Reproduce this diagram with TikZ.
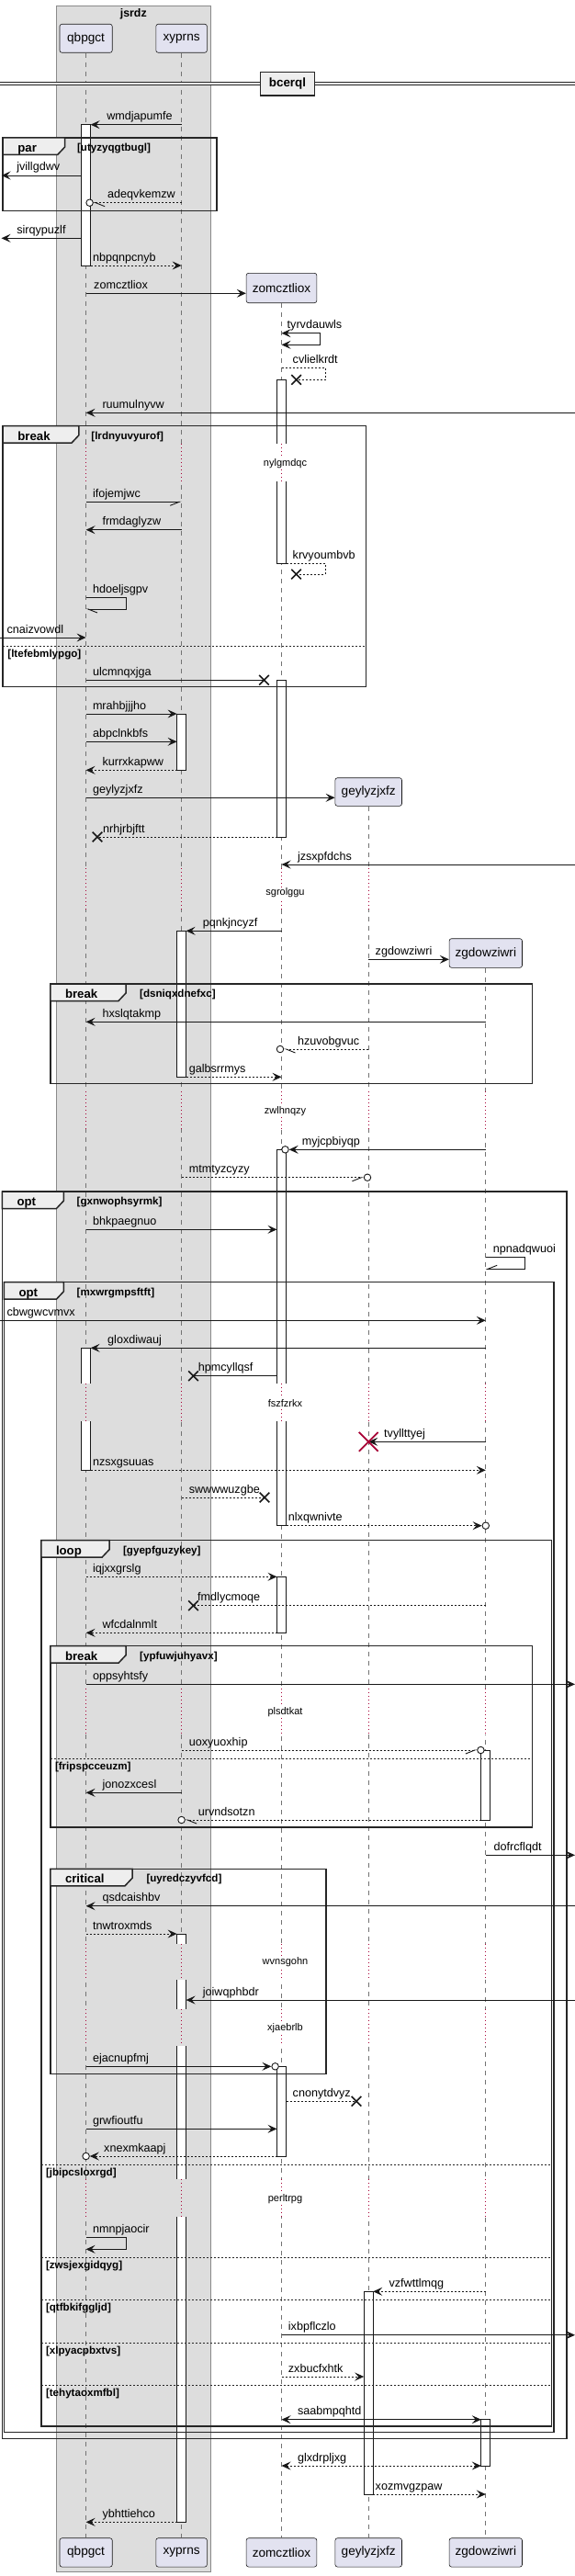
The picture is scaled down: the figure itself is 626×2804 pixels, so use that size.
\documentclass[tikz,border=0pt]{standalone}
\usepackage{fontspec}
\setmainfont{Liberation Sans}
\usepackage{tikz}
\usetikzlibrary{arrows.meta, calc, shapes.misc}

\definecolor{partfill}{HTML}{E2E2F0}
\definecolor{partline}{HTML}{181818}
\definecolor{boxfill}{HTML}{DDDDDD}
\definecolor{boxline}{HTML}{8A8A8A}
\definecolor{tabfill}{HTML}{EEEEEE}
\definecolor{delayred}{HTML}{A80036}

\tikzset{
  part/.style={draw=partline, fill=partfill, rounded corners=2.5pt, line width=0.6pt,
    inner sep=0pt, font=\fontsize{13.6}{16}\selectfont},
  life/.style={draw=black!55, line width=0.8pt, dash pattern=on 5pt off 5pt},
  dotlife/.style={draw=delayred, line width=0.9pt, dash pattern=on 1pt off 3pt},
  act/.style={draw=partline, fill=white, line width=0.9pt},
  msg/.style={draw=partline, line width=0.9pt, arrows={-Stealth[length=10pt,width=9pt,inset=4pt]}},
  ret/.style={dash pattern=on 2pt off 2pt},
  plain/.style={arrows={-}},
  two/.style={arrows={Stealth[length=10pt,width=9pt,inset=4pt]-Stealth[length=10pt,width=9pt,inset=4pt]}},
  hl/.style={arrows={-Straight Barb[harpoon,length=10pt,width=8pt]}},
  hr/.style={arrows={-Straight Barb[harpoon,swap,length=10pt,width=8pt]}},
  lbl/.style={anchor=base west, inner sep=0pt, font=\fontsize{12.6}{15}\selectfont},
  ring/.style={circle, draw=partline, fill=white, line width=0.9pt, minimum size=7.5pt, inner sep=0pt},
  xmark/.style={cross out, draw=partline, line width=1.6pt, minimum size=9pt, inner sep=0pt},
  xdead/.style={cross out, draw=delayred, line width=1.8pt, minimum size=19pt, inner sep=0pt},
  frameline/.style={draw=black!85, line width=1.5pt},
  elsel/.style={draw=black!85, line width=0.9pt, dash pattern=on 2pt off 2pt},
  kw/.style={anchor=base west, inner sep=0pt, font=\bfseries\fontsize{13.2}{15}\selectfont},
  cond/.style={anchor=base west, inner sep=0pt, font=\bfseries\fontsize{11.6}{14}\selectfont},
  delaytxt/.style={fill=white, inner sep=1pt, font=\fontsize{11}{13}\selectfont},
}

\newcounter{lblc}
\newcounter{grpc}
% message: [style]{from}{to}{y}{label}{label x}
\newcommand{\sendmsg}[6][]{%
  \stepcounter{lblc}%
  \draw[msg,#1] (#2 |- 0,#4) -- (#3 |- 0,#4);
  \node[lbl] (t\arabic{lblc}) at (#6,#4-5) {#5};}
\newcommand{\actbar}[3]{\draw[act] ($(#1)+(-5,#2)$) rectangle ($(#1)+(5,#3)$);}
% delay: {y1}{y2}{text y}{text}{lifeline/background}
\newcommand{\delaygap}[5]{%
  \foreach \p/\bg in {#5} {
    \fill[fill=\bg] ($(\p)+(-6,#1)$) rectangle ($(\p)+(6,#2)$);
    \draw[dotlife] ($(\p)+(0,#1)$) -- ($(\p)+(0,#2)$);
  }
  \node[delaytxt] (d#4) at (310.5,#3) {#4};}
% group frame: {x1}{y1}{x2}{y2}{tab right}{keyword}{condition}{condition x}
\newcommand{\grp}[8]{%
  \stepcounter{grpc}%
  \draw[frameline] (#1,#2) rectangle (#3,#4);
  \draw[frameline, fill=tabfill] (#1,#2) -- (#5,#2) -- (#5,#2+10) -- (#5-8,#2+18.5) -- (#1,#2+18.5) -- cycle;
  \node[kw] (g\arabic{grpc}) at (#1+16,#2+15.5) {#6};
  \node[cond] (gc\arabic{grpc}) at (#8,#2+14.5) {#7};}
\newcommand{\orelse}[4]{%
  \stepcounter{grpc}%
  \draw[elsel] (#1,#3) -- (#2,#3);
  \node[cond] (el\arabic{grpc}) at (#1+5,#3+12.5) {#4};}

\begin{document}
\begin{tikzpicture}[x=1pt, y=-1pt]
  \useasboundingbox (0,0) rectangle (626,2804);
  \fill[white] (0,0) rectangle (626,2804);

  % box jsrdz
  \draw[fill=boxfill, draw=boxline, line width=0.8pt] (60.9,6) rectangle (229.8,2799);
  \node[font=\bfseries\fontsize{12.4}{15}\selectfont] (jsrdz) at (145.3,15) {jsrdz};

  % lifelines
  \coordinate (qb) at (93.6,0);
  \coordinate (xy) at (197.6,0);
  \coordinate (zo) at (306.5,0);
  \coordinate (ge) at (401.2,0);
  \coordinate (zg) at (528.8,0);
  \foreach \p in {qb,xy,zo,ge,zg} {
    \coordinate (l\p) at ($(\p)+(-5,0)$);
    \coordinate (r\p) at ($(\p)+(5,0)$);
  }
  \coordinate (farL) at (0,0);
  \coordinate (tipL) at (1.5,0);
  \coordinate (farR) at (626,0);

  % participants
  \node[part, minimum width=57.3pt, minimum height=31pt] (qbpgct) at (qb |- 0,41.8) {qbpgct};
  \node[part, minimum width=55.6pt, minimum height=31pt] (xyprns) at (xy |- 0,41.8) {xyprns};
  \node[part, minimum width=76.7pt, minimum height=32.4pt] (zomcztliox) at (zo |- 0,313.5) {zomcztliox};
  \node[part, minimum width=72.6pt, minimum height=30.6pt] (geylyzjxfz) at (ge |- 0,862) {geylyzjxfz};
  \node[part, minimum width=79.4pt, minimum height=31.6pt] (zgdowziwri) at (zg |- 0,1037.5) {zgdowziwri};
  \node[part, minimum width=57.3pt, minimum height=31.3pt] (qbpgct2) at (qb |- 0,2778.4) {qbpgct};
  \node[part, minimum width=55.6pt, minimum height=31.3pt] (xyprns2) at (xy |- 0,2778.4) {xyprns};
  \node[part, minimum width=76.7pt, minimum height=31.3pt] (zomcztliox2) at (zo |- 0,2778.4) {zomcztliox};
  \node[part, minimum width=72.6pt, minimum height=31.3pt] (geylyzjxfz2) at (ge |- 0,2778.4) {geylyzjxfz};
  \node[part, minimum width=79.4pt, minimum height=31.3pt] (zgdowziwri2) at (zg |- 0,2778.4) {zgdowziwri};
  \draw[life] (qbpgct.south) -- (qbpgct2.north);
  \draw[life] (xyprns.south) -- (xyprns2.north);
  \draw[life] (zomcztliox.south) -- (zomcztliox2.north);
  \draw[life] (geylyzjxfz.south) -- (geylyzjxfz2.north);
  \draw[life] (zgdowziwri.south) -- (zgdowziwri2.north);

  % activations
  \actbar{qb}{135.7}{289}
  \actbar{zo}{413.3}{613.3}
  \actbar{zo}{740.3}{911}
  \actbar{xy}{777}{838.3}
  \actbar{xy}{1013.3}{1172.3}
  \actbar{zo}{1251.3}{1660.7}
  \actbar{qb}{1467.3}{1600.3}
  \actbar{zo}{1716.3}{1777.3}
  \actbar{zg}{1905}{1981}
  \actbar{xy}{2105}{2745.3}
  \actbar{zo}{2249.3}{2347}
  \actbar{ge}{2494.3}{2715}
  \actbar{zg}{2633.7}{2684}

  % delays
  \delaygap{483}{523.5}{504.3}{nylgmdqc}{qb/boxfill, xy/boxfill, zo/white}
  \delaygap{945}{990}{971.7}{sgrolggu}{qb/boxfill, xy/boxfill, zo/white, ge/white}
  \delaygap{1188}{1228.5}{1209.3}{zwlhnqzy}{qb/boxfill, xy/boxfill, zo/white, ge/white, zg/white}
  \delaygap{1505.7}{1547}{1527.3}{fszfzrkx}{qb/boxfill, xy/boxfill, zo/white, ge/white, zg/white}
  \delaygap{1838.3}{1888}{1863.3}{plsdtkat}{qb/boxfill, xy/boxfill, zo/white, ge/white, zg/white}
  \delaygap{2116}{2155}{2135.7}{wvnsgohn}{qb/boxfill, xy/boxfill, zo/white, ge/white, zg/white}
  \delaygap{2187}{2227}{2207.3}{xjaebrlb}{qb/boxfill, xy/boxfill, zo/white, ge/white, zg/white}
  \delaygap{2371.7}{2412.7}{2393.7}{perltrpg}{qb/boxfill, xy/boxfill, zo/white, ge/white, zg/white}

  % groups
  \grp{3.2}{150}{235.9}{229.3}{70.6}{par}{[utyzyqgtbugl]}{83.9}
  \grp{3.2}{463.7}{398.4}{747.7}{85.9}{break}{[lrdnyuvyurof]}{99.2}
  \orelse{3.2}{398.4}{703.3}{[ltefebmlypgo]}
  \grp{54.8}{1071}{579.4}{1179.7}{137}{break}{[dsniqxdnefxc]}{152}
  \grp{2.4}{1297}{617}{2654.3}{69.4}{opt}{[gxnwophsyrmk]}{83.5}
  \grp{4.4}{1395.7}{603}{2647.7}{69.4}{opt}{[mxwrgmpsftft]}{83.5}
  \grp{44.8}{1676.7}{600.5}{2641}{119}{loop}{[gyepfguzykey]}{133.9}
  \grp{54.8}{1791.7}{579.4}{1989}{137}{break}{[ypfuwjuhyavx]}{152}
  \orelse{54.8}{579.4}{1914}{[fripspcceuzm]}
  \grp{54.8}{2034.3}{354.8}{2257.7}{144}{critical}{[uyredczyvfcd]}{159.3}
  \orelse{44.8}{600.5}{2356}{[jbipcsloxrgd]}
  \orelse{44.8}{600.5}{2457.3}{[zwsjexgidqyg]}
  \orelse{44.8}{600.5}{2503.3}{[qtfbkifggljd]}
  \orelse{44.8}{600.5}{2550.3}{[xlpyacpbxtvs]}
  \orelse{44.8}{600.5}{2596}{[tehytaoxmfbl]}

  % divider
  \fill[tabfill] (0,89.3) rectangle (626,92.3);
  \draw[draw=black!85, line width=0.9pt] (0,89.3) -- (626,89.3) (0,92.3) -- (626,92.3);
  \node[draw=black!85, line width=1.5pt, fill=tabfill, minimum width=59pt, minimum height=25.5pt,
    inner sep=0pt, font=\bfseries\fontsize{13.4}{15}\selectfont] (bcerql) at (313,91.2) {bcerql};

  % messages
  \sendmsg{xy}{rqb}{135.7}{wmdjapumfe}{116.1}
  \sendmsg{lqb}{tipL}{191}{jvillgdwv}{18.1}
  \node[ring] (c1) at (97.6,220.7) {};
  \sendmsg[ret,hl]{xy}{c1.east}{220.7}{adeqvkemzw}{117}
  \sendmsg{lqb}{tipL}{259.3}{sirqypuzlf}{18.1}
  \sendmsg[ret]{rqb}{xy}{289}{nbpqnpcnyb}{100.8}
  \sendmsg{qb}{zomcztliox.west}{319.3}{zomcztliox}{102}
  \draw[msg,two] (zo |- 0,362.7) -- (348.8,362.7) -- (348.8,375.3) -- (zo |- 0,375.3);
  \node[lbl] (s1) at (312.5,357.7) {tyrvdauwls};
  \node[xmark] (x1) at (322.6,413.3) {};
  \draw[msg,ret,plain] (zo |- 0,400.3) -- (354,400.3) -- (354,413.3) -- (x1.center);
  \node[lbl] (s2) at (318.5,395.3) {cvlielkrdt};
  \sendmsg{farR}{qb}{449.3}{ruumulnyvw}{111.3}
  \sendmsg[hr]{qb}{xy}{546.3}{ifojemjwc}{100.8}
  \sendmsg{xy}{qb}{576.7}{frmdaglyzw}{111.3}
  \node[xmark] (x2) at (322.6,625) {};
  \draw[msg,ret,plain] (rzo |- 0,613.3) -- (354,613.3) -- (354,625) -- (x2.center);
  \node[lbl] (s3) at (318.5,608.3) {krvyoumbvb};
  \draw[msg,hl] (qb |- 0,650.7) -- (137,650.7) -- (137,663) -- (qb |- 0,663);
  \node[lbl] (s4) at (100.8,645.7) {hdoeljsgpv};
  \sendmsg{farL}{qb}{694}{cnaizvowdl}{7.3}
  \node[xmark] (x3) at (287.5,740.3) {};
  \sendmsg[plain]{qb}{x3}{740.3}{ulcmnqxjga}{100.8}
  \sendmsg{qb}{lxy}{777}{mrahbjjjho}{100.8}
  \sendmsg{qb}{lxy}{807.3}{abpclnkbfs}{100.8}
  \sendmsg[ret]{lxy}{qb}{838.3}{kurrxkapww}{111.3}
  \sendmsg{qb}{geylyzjxfz.west}{868.3}{geylyzjxfz}{100.8}
  \node[xmark] (x4) at (106,911) {};
  \sendmsg[ret,plain]{lzo}{x4}{911}{nrhjrbjftt}{112}
  \sendmsg{farR}{zo}{941}{jzsxpfdchs}{323.8}
  \sendmsg{zo}{rxy}{1013.3}{pqnkjncyzf}{220.6}
  \sendmsg{ge}{zgdowziwri.west}{1044.3}{zgdowziwri}{408.5}
  \sendmsg{zg}{qb}{1112.3}{hxslqtakmp}{111.3}
  \node[ring] (c2) at (305,1142) {};
  \sendmsg[ret,hl]{ge}{c2.east}{1142}{hzuvobgvuc}{323.8}
  \sendmsg[ret]{rxy}{zo}{1172.3}{galbsrrmys}{205.6}
  \node[ring] (c3) at (310.5,1251.3) {};
  \sendmsg{zg}{c3.east}{1251.3}{myjcpbiyqp}{328.6}
  \node[ring] (c4) at (400,1281.7) {};
  \sendmsg[ret,hr]{xy}{c4.west}{1281.7}{mtmtyzcyzy}{205.6}
  \sendmsg{qb}{lzo}{1338.3}{bhkpaegnuo}{100.8}
  \draw[msg,hr] (zg |- 0,1368.3) -- (571.4,1368.3) -- (571.4,1381.3) -- (zg |- 0,1381.3);
  \node[lbl] (s5) at (536.7,1363.3) {npnadqwuoi};
  \sendmsg{farL}{zg}{1437.3}{cbwgwcvmvx}{7.3}
  \sendmsg{zg}{rqb}{1467.3}{gloxdiwauj}{117}
  \node[xmark] (x5) at (210.5,1497.7) {};
  \sendmsg[plain]{lzo}{x5}{1497.7}{hpmcyllqsf}{215.7}
  \sendmsg{zg}{ge}{1569.3}{tvyllttyej}{418}
  \node[xdead] (x6) at (ge |- 0,1569.3) {};
  \sendmsg[ret]{rqb}{zg}{1600.3}{nzsxgsuuas}{100.8}
  \node[xmark] (x7) at (288,1630) {};
  \sendmsg[ret,plain]{xy}{x7}{1630}{swwwwuzgbe}{205.6}
  \node[ring] (c5) at (zg |- 0,1660.7) {};
  \sendmsg[ret]{rzo}{c5.west}{1660.7}{nlxqwnivte}{313.7}
  \sendmsg[ret]{qb}{lzo}{1716.3}{iqjxxgrslg}{100.8}
  \node[xmark] (x8) at (210.5,1747.7) {};
  \sendmsg[ret,plain]{zg}{x8}{1747.7}{fmdlycmoqe}{215}
  \sendmsg[ret]{lzo}{qb}{1777.3}{wfcdalnmlt}{111.3}
  \sendmsg{qb}{farR}{1833.3}{oppsyhtsfy}{100.8}
  \node[ring] (c6) at (523.4,1905) {};
  \sendmsg[ret,hr]{xy}{c6.west}{1905}{uoxyuoxhip}{205.6}
  \sendmsg{xy}{qb}{1951.3}{jonozxcesl}{111.3}
  \node[ring] (c7) at (xy |- 0,1981) {};
  \sendmsg[ret,hl]{lzg}{c7.east}{1981}{urvndsotzn}{215.7}
  \sendmsg{zg}{farR}{2019.3}{dofrcflqdt}{537.5}
  \sendmsg{farR}{qb}{2074.7}{qsdcaishbv}{111.3}
  \sendmsg[ret]{qb}{lxy}{2105}{tnwtroxmds}{100.8}
  \sendmsg{farR}{rxy}{2177}{joiwqphbdr}{220.6}
  \node[ring] (c8) at (299.6,2249.3) {};
  \sendmsg{qb}{c8.west}{2249.3}{ejacnupfmj}{100.8}
  \node[xmark] (x9) at (388,2287.3) {};
  \sendmsg[ret,plain]{rzo}{x9}{2287.3}{cnonytdvyz}{318.5}
  \sendmsg{qb}{lzo}{2317.3}{grwfioutfu}{100.8}
  \node[ring] (c9) at (qb |- 0,2347) {};
  \sendmsg[ret]{lzo}{c9.east}{2347}{xnexmkaapj}{113}
  \draw[msg] (qb |- 0,2435.7) -- (137,2435.7) -- (137,2448.3) -- (qb |- 0,2448.3);
  \node[lbl] (s6) at (100.8,2430.7) {nmnpjaocir};
  \sendmsg[ret]{zg}{rge}{2494.3}{vzfwttlmqg}{423.4}
  \sendmsg{zo}{farR}{2541.7}{ixbpflczlo}{313.7}
  \sendmsg[ret]{zo}{lge}{2587}{zxbucfxhtk}{313.7}
  \sendmsg[two]{zo}{lzg}{2633.7}{saabmpqhtd}{323.8}
  \sendmsg[ret,two]{zo}{lzg}{2684}{glxdrpljxg}{323.8}
  \sendmsg[ret]{rge}{zg}{2715}{xozmvgzpaw}{408.5}
  \sendmsg[ret]{lxy}{qb}{2745.3}{ybhttiehco}{111.3}
\end{tikzpicture}
\end{document}
